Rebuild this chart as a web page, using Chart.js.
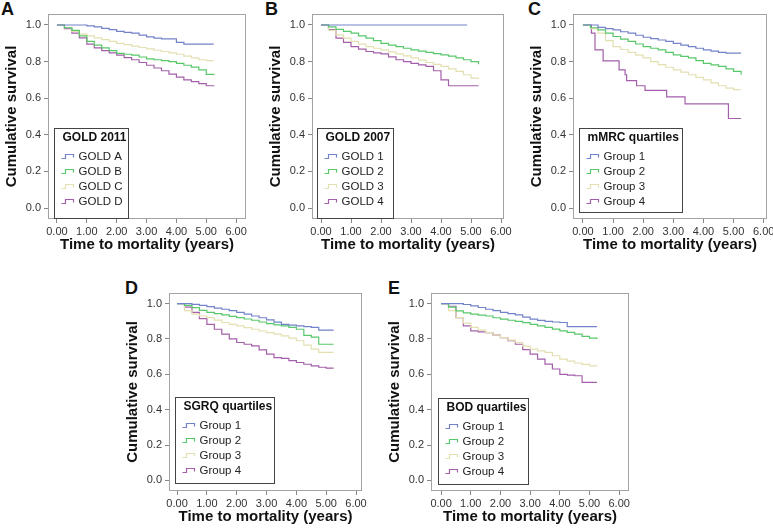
<!DOCTYPE html>
<html>
<head>
<title>Cumulative survival by group</title>
<script src="https://cdn.jsdelivr.net/npm/chart.js"></script>
<style>
body { margin:0; background:#fff; width:773px; height:528px; overflow:hidden; position:relative; font-family:"Liberation Sans", Arial, sans-serif; }
canvas { position:absolute; }
.tag { position:absolute; font-weight:bold; font-size:18px; line-height:18px; color:#111; }
</style>
</head>
<body>
<div class="tag" style="left:1px;top:0px">A</div>
<div class="tag" style="left:265px;top:0px">B</div>
<div class="tag" style="left:528px;top:0px">C</div>
<div class="tag" style="left:125px;top:279px">D</div>
<div class="tag" style="left:388px;top:279px">E</div>
<canvas id="cA"></canvas>
<canvas id="cB"></canvas>
<canvas id="cC"></canvas>
<canvas id="cD"></canvas>
<canvas id="cE"></canvas>
<script>
// shared axes
var grid = [0, 0.25, 0.5, 0.75, 1, 1.25, 1.5, 1.75, 2, 2.25, 2.5, 2.75, 3, 3.25, 3.5, 3.75, 4, 4.25, 4.5, 4.75, 5, 5.25];
var xTicks = [0, 1, 2, 3, 4, 5, 6];
var yTicks = [0, 0.2, 0.4, 0.6, 0.8, 1.0];
var colors = ['#7383c9', '#58c86a', '#e4e0b2', '#a35fa9'];
var groupLabels = ['Group 1', 'Group 2', 'Group 3', 'Group 4'];

// A - GOLD 2011
var goldLabelsA = ['GOLD A', 'GOLD B', 'GOLD C', 'GOLD D'];
var goldA = [1, 1, 1, 1, 0.995, 0.99, 0.982, 0.975, 0.965, 0.96, 0.955, 0.945, 0.935, 0.928, 0.924, 0.924, 0.905, 0.895, 0.895, 0.895, 0.895, 0.895];
var goldB = [1, 0.985, 0.97, 0.94, 0.91, 0.89, 0.875, 0.86, 0.845, 0.84, 0.835, 0.825, 0.815, 0.81, 0.805, 0.8, 0.79, 0.78, 0.77, 0.755, 0.73, 0.725];
var goldC = [1, 0.985, 0.965, 0.95, 0.94, 0.93, 0.92, 0.91, 0.9, 0.893, 0.885, 0.877, 0.87, 0.862, 0.855, 0.848, 0.84, 0.83, 0.82, 0.81, 0.805, 0.805];
var goldD = [1, 0.98, 0.955, 0.93, 0.895, 0.875, 0.86, 0.848, 0.835, 0.822, 0.81, 0.795, 0.78, 0.765, 0.75, 0.732, 0.715, 0.7, 0.69, 0.68, 0.668, 0.665];

// B - GOLD 2007
var goldLabelsB = ['GOLD 1', 'GOLD 2', 'GOLD 3', 'GOLD 4'];
var gold1T = [0, 4.87];
var gold1 = [1, 1];
var gold2 = [1, 0.99, 0.976, 0.965, 0.955, 0.94, 0.928, 0.914, 0.9, 0.89, 0.882, 0.873, 0.864, 0.857, 0.85, 0.843, 0.837, 0.83, 0.82, 0.81, 0.8, 0.786];
var gold3 = [1, 0.97, 0.946, 0.928, 0.91, 0.895, 0.882, 0.873, 0.864, 0.853, 0.842, 0.831, 0.82, 0.808, 0.795, 0.785, 0.774, 0.76, 0.746, 0.728, 0.71, 0.705];
var gold4 = [1, 0.975, 0.928, 0.905, 0.882, 0.868, 0.855, 0.848, 0.842, 0.826, 0.81, 0.8, 0.79, 0.782, 0.774, 0.75, 0.7, 0.668, 0.668, 0.668, 0.668, 0.668];

// C - mMRC quartiles
var mmrc1 = [1, 1, 0.987, 0.98, 0.973, 0.963, 0.955, 0.944, 0.933, 0.925, 0.918, 0.91, 0.9, 0.89, 0.882, 0.873, 0.864, 0.857, 0.85, 0.846, 0.846, 0.846];
var mmrc2 = [1, 0.985, 0.973, 0.955, 0.937, 0.923, 0.91, 0.896, 0.882, 0.873, 0.864, 0.85, 0.837, 0.828, 0.82, 0.805, 0.79, 0.782, 0.774, 0.76, 0.746, 0.728];
var mmrc3 = [1, 0.98, 0.955, 0.915, 0.882, 0.866, 0.85, 0.835, 0.82, 0.8, 0.783, 0.769, 0.755, 0.742, 0.728, 0.714, 0.7, 0.684, 0.668, 0.655, 0.647, 0.647];
var mmrc4T = [0, 0.28, 0.4, 0.67, 1.2, 1.4, 1.45, 1.78, 2.06, 2.78, 3.39, 4.83, 5.25];
var mmrc4 = [1, 0.955, 0.864, 0.804, 0.755, 0.728, 0.696, 0.668, 0.643, 0.607, 0.569, 0.489, 0.489];

// D - SGRQ quartiles
var sgrq1 = [1, 1, 0.996, 0.99, 0.983, 0.975, 0.968, 0.96, 0.95, 0.94, 0.93, 0.92, 0.908, 0.895, 0.883, 0.878, 0.874, 0.87, 0.865, 0.85, 0.85, 0.85];
var sgrq2 = [1, 0.99, 0.977, 0.962, 0.95, 0.943, 0.936, 0.928, 0.921, 0.913, 0.906, 0.896, 0.887, 0.88, 0.874, 0.865, 0.855, 0.82, 0.81, 0.77, 0.77, 0.77];
var sgrq3 = [1, 0.96, 0.94, 0.93, 0.921, 0.907, 0.893, 0.883, 0.874, 0.864, 0.855, 0.845, 0.836, 0.827, 0.818, 0.805, 0.79, 0.765, 0.742, 0.724, 0.724, 0.724];
var sgrq4 = [1, 0.98, 0.95, 0.915, 0.883, 0.855, 0.827, 0.8, 0.78, 0.77, 0.761, 0.738, 0.714, 0.695, 0.69, 0.678, 0.667, 0.657, 0.648, 0.64, 0.635, 0.635];

// E - BOD quartiles
var bod1 = [1, 1, 1, 0.995, 0.987, 0.978, 0.968, 0.96, 0.95, 0.943, 0.936, 0.924, 0.912, 0.905, 0.9, 0.896, 0.893, 0.87, 0.87, 0.87, 0.87, 0.87];
var bod2 = [1, 0.98, 0.959, 0.948, 0.94, 0.935, 0.93, 0.92, 0.912, 0.906, 0.9, 0.892, 0.883, 0.874, 0.865, 0.856, 0.846, 0.837, 0.827, 0.815, 0.805, 0.8];
var bod3 = [1, 0.96, 0.921, 0.89, 0.865, 0.85, 0.836, 0.822, 0.808, 0.794, 0.78, 0.76, 0.742, 0.733, 0.724, 0.705, 0.686, 0.675, 0.664, 0.656, 0.648, 0.645];
var bod4 = [1, 0.985, 0.921, 0.874, 0.846, 0.84, 0.836, 0.822, 0.808, 0.79, 0.77, 0.74, 0.714, 0.686, 0.658, 0.63, 0.6, 0.596, 0.592, 0.555, 0.555, 0.555];

var fam = '"Liberation Sans", Arial, sans-serif';

function pts(t, s) {
    return t.map(function(v, i) { return {x: v, y: s[i]}; });
}

// grey box round the plot area
var framePlugin = {
    id: 'frame',
    beforeDatasetsDraw: function(chart) {
        var a = chart.chartArea, c = chart.ctx;
        c.save();
        c.strokeStyle = '#a3a3a3';
        c.lineWidth = 1;
        c.strokeRect(Math.round(a.left) + 0.5, Math.round(a.top) + 0.5,
            Math.round(a.right - a.left) - 1, Math.round(a.bottom - a.top) - 1);
        c.restore();
    }
};

// legend box inside the plot, SPSS style
var boxLegend = {
    id: 'boxLegend',
    afterDatasetsDraw: function(chart, args, opts) {
        var a = chart.chartArea, c = chart.ctx;
        var x = Math.round(a.left + opts.dx) + 0.5, y = Math.round(a.top + opts.dy) + 0.5;
        c.save();
        c.fillStyle = '#fff';
        c.fillRect(x, y, opts.w, opts.h);
        c.strokeStyle = '#444';
        c.lineWidth = 1;
        c.strokeRect(x, y, opts.w, opts.h);
        c.textBaseline = 'middle';
        c.fillStyle = '#111';
        c.font = 'bold 12px ' + fam;
        c.fillText(opts.title, x + 8, y + 9);
        c.font = '11.5px ' + fam;
        chart.data.datasets.forEach(function(ds, i) {
            var ly = Math.round(y + 27 + 15 * i) + 0.5;
            c.lineWidth = 1.2;
            c.strokeStyle = colors[i];
            c.beginPath();
            c.moveTo(x + 7, ly + 2);
            c.lineTo(x + 11, ly + 2);
            c.lineTo(x + 11, ly - 2);
            c.lineTo(x + 19, ly - 2);
            c.lineTo(x + 19, ly + 1);
            c.stroke();
            c.fillStyle = '#222';
            c.fillText(ds.label, x + 24, ly);
        });
        c.restore();
    }
};

var panels = [
    {id: 'cA', area: [48, 14, 246, 219], xMin: -0.3, xMax: 6.33, title: 'GOLD 2011', labels: goldLabelsA,
     series: [[grid, goldA], [grid, goldB], [grid, goldC], [grid, goldD]], leg: {dx: 6, dy: 114, w: 74, h: 90}},
    {id: 'cB', area: [312, 14, 504, 219], xMin: -0.3, xMax: 6.1, title: 'GOLD 2007', labels: goldLabelsB,
     series: [[gold1T, gold1], [grid, gold2], [grid, gold3], [grid, gold4]], leg: {dx: 5, dy: 114, w: 76, h: 90}},
    {id: 'cC', area: [573, 14, 767, 219], xMin: -0.33, xMax: 6.11, title: 'mMRC quartiles', labels: groupLabels,
     series: [[grid, mmrc1], [grid, mmrc2], [grid, mmrc3], [mmrc4T, mmrc4]], leg: {dx: 6, dy: 114, w: 103, h: 84}},
    {id: 'cD', area: [169, 293, 362, 491], xMin: -0.27, xMax: 6.2, title: 'SGRQ quartiles', labels: groupLabels,
     series: [[grid, sgrq1], [grid, sgrq2], [grid, sgrq3], [grid, sgrq4]], leg: {dx: 6, dy: 104, w: 99, h: 86}},
    {id: 'cE', area: [431, 293, 629, 491], xMin: -0.34, xMax: 6.33, title: 'BOD quartiles', labels: groupLabels,
     series: [[grid, bod1], [grid, bod2], [grid, bod3], [grid, bod4]], leg: {dx: 7, dy: 105, w: 90, h: 86}}
];

panels.forEach(function(p) {
    var cv = document.getElementById(p.id);
    var l = p.area[0], t = p.area[1], r = p.area[2], b = p.area[3];
    cv.width = r - l + 48 + 12;
    cv.height = b - t + 14 + 40;
    cv.style.left = (l - 48) + 'px';
    cv.style.top = (t - 14) + 'px';

    new Chart(cv.getContext('2d'), {
        type: 'line',
        data: {
            datasets: p.series.map(function(s, i) {
                return {
                    label: p.labels[i],
                    data: pts(s[0], s[1]),
                    borderColor: colors[i],
                    borderWidth: 1.2,
                    pointRadius: 0,
                    stepped: true,
                    fill: false
                };
            })
        },
        options: {
            responsive: false,
            animation: false,
            layout: {padding: {top: 14, right: 12, left: 0, bottom: 0}},
            plugins: {
                legend: {display: false},
                tooltip: {enabled: false},
                boxLegend: {title: p.title, dx: p.leg.dx, dy: p.leg.dy, w: p.leg.w, h: p.leg.h}
            },
            scales: {
                x: {
                    type: 'linear', min: p.xMin, max: p.xMax,
                    afterBuildTicks: function(s) { s.ticks = xTicks.map(function(v) { return {value: v}; }); },
                    afterFit: function(s) { s.height = 40; },
                    ticks: {callback: function(v) { return v.toFixed(2); }, font: {size: 11, family: fam}, color: '#333', padding: 2, maxRotation: 0, autoSkip: false},
                    grid: {drawOnChartArea: false, tickLength: 4, color: '#888'},
                    border: {display: false},
                    title: {display: true, text: 'Time to mortality (years)', font: {size: 15, weight: 'bold', family: fam}, color: '#111', padding: {top: 0, bottom: 5}}
                },
                y: {
                    min: -0.06, max: 1.06,
                    afterBuildTicks: function(s) { s.ticks = yTicks.map(function(v) { return {value: v}; }); },
                    afterFit: function(s) { s.width = 48; },
                    ticks: {callback: function(v) { return v.toFixed(1); }, font: {size: 11, family: fam}, color: '#333', padding: 3},
                    grid: {drawOnChartArea: false, tickLength: 4, color: '#888'},
                    border: {display: false},
                    title: {display: true, text: 'Cumulative survival', font: {size: 15, weight: 'bold', family: fam}, color: '#111', padding: {top: 3, bottom: 0}}
                }
            }
        },
        plugins: [framePlugin, boxLegend]
    });
});
</script>
</body>
</html>
